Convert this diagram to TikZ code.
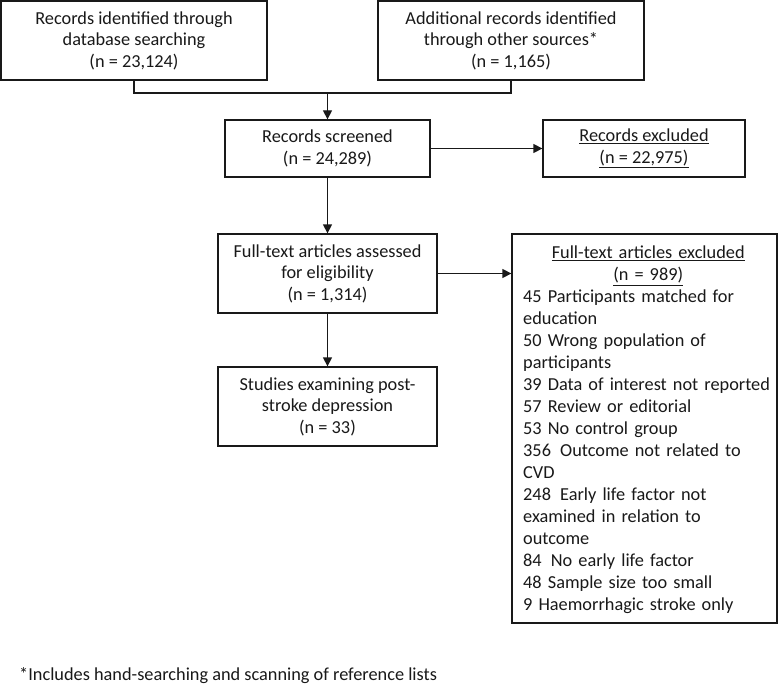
\documentclass[tikz,border=0pt]{standalone}
\usepackage{fontspec}
\setmainfont{Carlito}
\usetikzlibrary{arrows.meta}
\begin{document}
\begin{tikzpicture}[x=1pt,y=-1pt,
  box/.style={draw=black!90, line width=1.3pt, align=center, inner sep=0pt,
    font=\fontsize{18.3}{21.5}\selectfont, text=black!90},
  conn/.style={draw=black!90, line width=1.3pt},
  arr/.style={conn, -{Triangle[length=9pt,width=9pt]}},
  txt/.style={inner sep=0pt, font=\fontsize{18.3}{22}\selectfont, text=black!90}]
\useasboundingbox[fill=white] (0,0) rectangle (778,687);

\node[box, minimum width=266pt, minimum height=79pt] (db) at (134,40.5)
  {Records identified through\\database searching\\(n = 23,124)};
\node[box, minimum width=266pt, minimum height=79pt] (other) at (511,40.5)
  {Additional records identified\\through other sources*\\(n = 1,165)};
\node[box, minimum width=205pt, minimum height=57pt] (screen) at (327.5,148.5)
  {Records screened\\(n = 24,289)};
\node[box, minimum width=202pt, minimum height=57pt] (rexcl) at (644,148.5)
  {\underline{Records excluded}\\\underline{(n = 22,975)}};
\node[box, minimum width=219pt, minimum height=79pt] (full) at (327.5,273.5)
  {Full-text articles assessed\\for eligibility\\(n = 1,314)};
\node[box, minimum width=219pt, minimum height=79pt] (studies) at (327.5,406.5)
  {Studies examining post-\\stroke depression\\(n = 33)};
\node[box, minimum width=265pt, minimum height=389pt] (fexcl) at (644.5,428.5) {};
\node[txt, anchor=north west, text width=250pt] (flist) at (523,246)
  {\centering\underline{Full-text articles excluded}\\\underline{(n = 989)}\par
   \raggedright
   45 Participants matched for\\
   education\\
   50 Wrong population of\\
   participants\\
   39 Data of interest not reported\\
   57 Review or editorial\\
   53 No control group\\
   356\, Outcome not related to\\
   CVD\\
   248\, Early life factor not\\
   examined in relation to\\
   outcome\\
   84\, No early life factor\\
   48 Sample size too small\\
   9 Haemorrhagic stroke only\par};
\node[txt, anchor=west] (note) at (19,676)
  {*Includes hand-searching and scanning of reference lists};

\coordinate (j) at (327.5,93);
\draw[conn] (db.south) |- (j) -| (other.south);
\draw[arr] (j) -- (screen.north);
\draw[arr] (screen.east) -- (rexcl.west);
\draw[arr] (screen.south) -- (full.north);
\draw[arr] (full.south) -- (studies.north);
\draw[arr] (full.east) -- (full.east -| fexcl.west);
\end{tikzpicture}
\end{document}
